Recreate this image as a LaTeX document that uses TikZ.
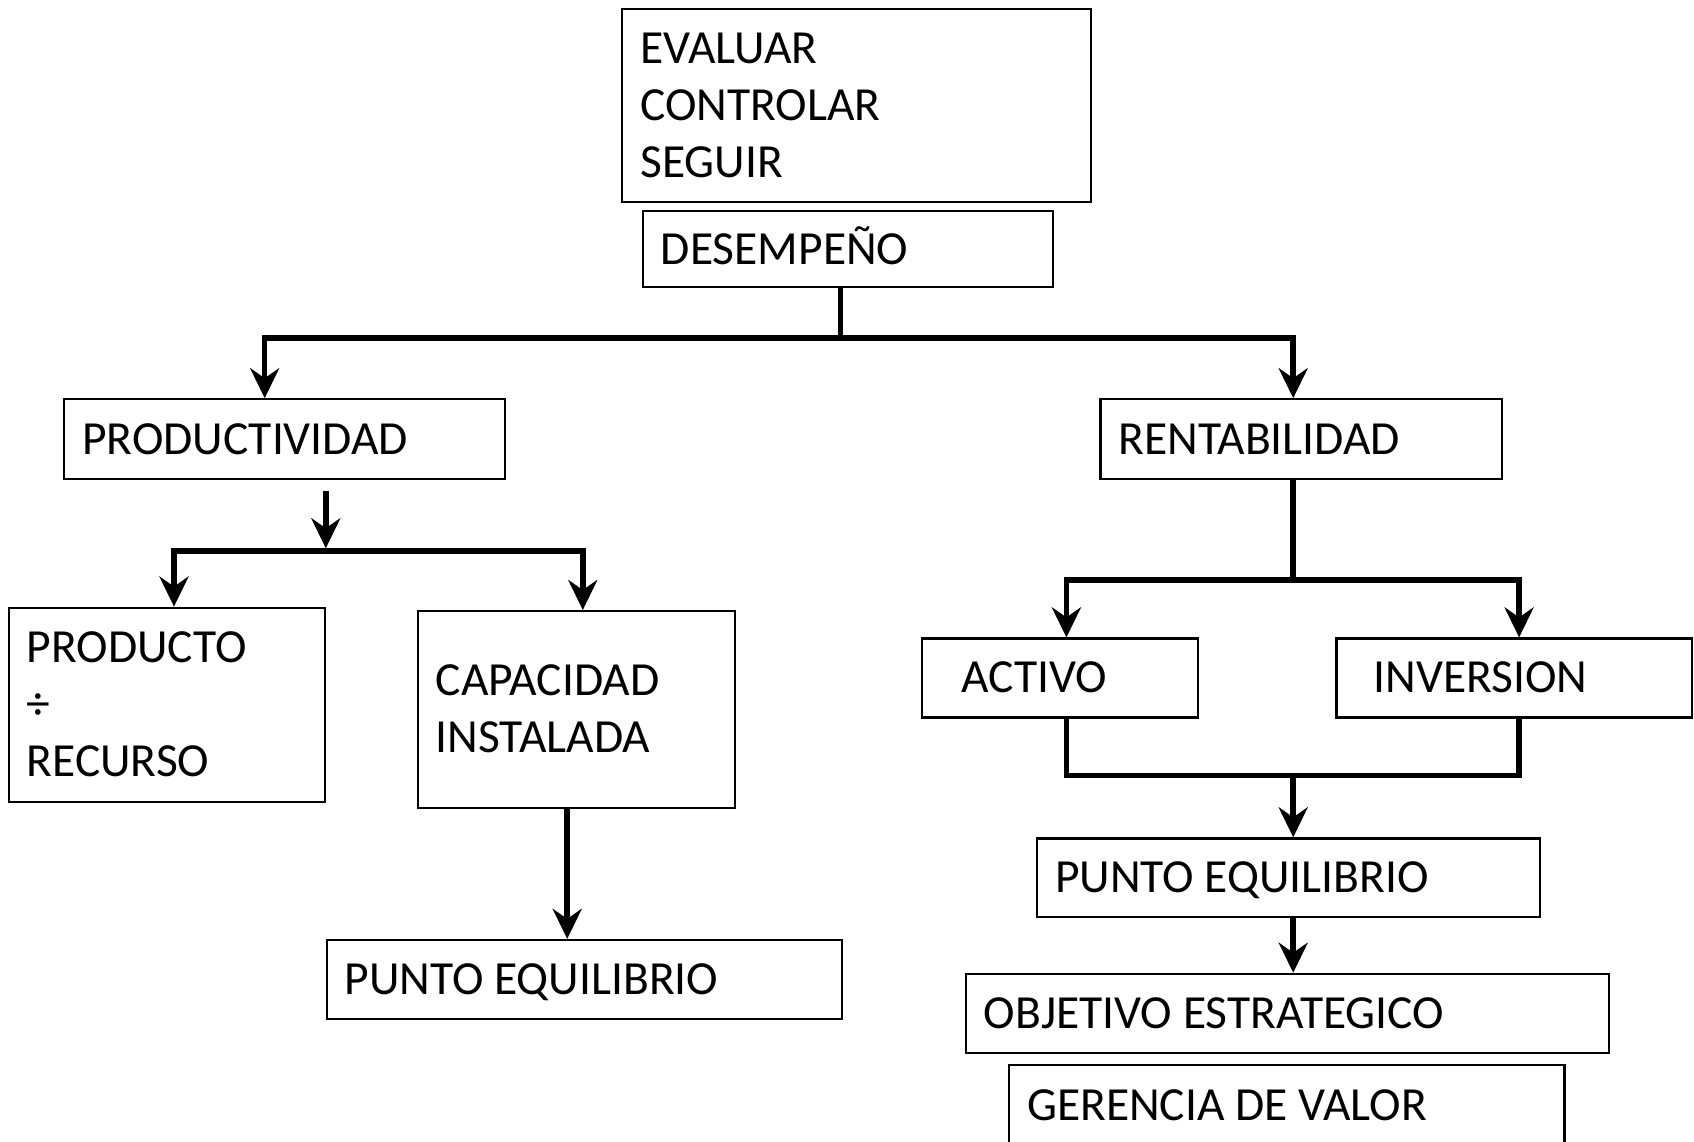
\documentclass[tikz,border=0pt]{standalone}
\usepackage{fontspec}
\setmainfont{Carlito}
\usetikzlibrary{arrows.meta,calc}
\tikzset{
  box/.style={draw=black, line width=2.2pt, rectangle, anchor=north west,
    inner ysep=0pt, inner xsep=18pt, align=flush left,
    font=\fontsize{47.5}{57}\selectfont, text height=30pt, text depth=0pt},
  conn/.style={draw=black, line width=5.5pt, line join=miter},
  arr/.style={-{Stealth[length=30pt,width=29pt,inset=10pt]}}
}
\begin{document}
\begin{tikzpicture}[x=1pt,y=-1pt]
\useasboundingbox (0,0) rectangle (1694,1141);
% boxes
\node[box, text width=432.9pt, minimum width=468.9pt, minimum height=193.4pt, text depth=114pt] (eval) at (621.2,7.6) {EVALUAR\\CONTROLAR\\SEGUIR};
\node[box, text width=374pt, minimum width=410pt, minimum height=75.6pt] (des) at (641.8,210.2) {DESEMPEÑO};
\node[box, text width=404.3pt, minimum width=440.3pt, minimum height=80pt] (prod) at (63.2,398.2) {PRODUCTIVIDAD};
\node[box, text width=365.4pt, minimum width=401.4pt, minimum height=80pt] (rent) at (1099.3,398.2) {RENTABILIDAD};
\node[box, text width=279.9pt, minimum width=315.9pt, minimum height=194.5pt, text depth=114pt] (producto) at (7.6,606.6) {PRODUCTO\\÷\\RECURSO};
\node[box, text width=280.9pt, minimum width=316.9pt, minimum height=196.6pt, text depth=57pt] (capac) at (416.7,610) {CAPACIDAD\\INSTALADA};
\node[box, text width=478.9pt, minimum width=514.9pt, minimum height=78.9pt] (pe1) at (325.6,938.9) {PUNTO EQUILIBRIO};
\node[box, inner xsep=40pt, text width=196.6pt, minimum width=276.6pt, minimum height=78.9pt] (activo) at (920.5,637.4) {ACTIVO};
\node[box, inner xsep=37pt, text width=281.5pt, minimum width=355.5pt, minimum height=78.9pt] (inversion) at (1335.4,637.4) {INVERSION};
\node[box, text width=466.4pt, minimum width=502.4pt, minimum height=78.9pt] (pe2) at (1036.1,837.3) {PUNTO EQUILIBRIO};
\node[box, text width=606.8pt, minimum width=642.8pt, minimum height=79.3pt] (obj) at (964.8,972.7) {OBJETIVO ESTRATEGICO};
\node[box, text width=519.3pt, minimum width=555.3pt, minimum height=80pt] (ger) at (1008,1064.2) {GERENCIA DE VALOR};
% junction coordinates
\coordinate (j1) at (840.6,338.2);
\coordinate (jl) at (264.7,338.2);
\coordinate (jr) at (1293.2,338.2);
\coordinate (j2) at (325.8,551);
\coordinate (a1) at (174,551);
\coordinate (a2) at (582.8,551);
\coordinate (c1) at (567.2,0);
\coordinate (j3) at (1293.2,580.2);
\coordinate (b1) at (1066.4,580.2);
\coordinate (b2) at (1519.1,580.2);
\coordinate (j4) at (1293.2,775.7);
% connectors
\draw[conn] (des.south -| j1) -- (j1);
\draw[conn,arr] (j1) -| (jl |- prod.north);
\draw[conn,arr] (j1) -| (jr |- rent.north);
\draw[conn,arr,shorten >=2.75pt] ($(prod.south -| j2)+(0,11)$) -- (j2);
\draw[conn] (a1) -- (a2);
\draw[conn,arr] (j2) -| (a1 |- producto.north);
\draw[conn,arr] (j2) -| (a2 |- capac.north);
\draw[conn,arr] (capac.south -| c1) -- (c1 |- pe1.north);
\draw[conn] (rent.south -| j3) -- (j3);
\draw[conn,arr] (j3) -| (b1 |- activo.north);
\draw[conn,arr] (j3) -| (b2 |- inversion.north);
\draw[conn] (activo.south -| b1) -- (b1 |- j4) -- (b2 |- j4) -- (inversion.south -| b2);
\draw[conn,arr] (j4) -- (pe2.north -| j4);
\draw[conn,arr] (pe2.south -| j4) -- (obj.north -| j4);
\end{tikzpicture}
\end{document}
